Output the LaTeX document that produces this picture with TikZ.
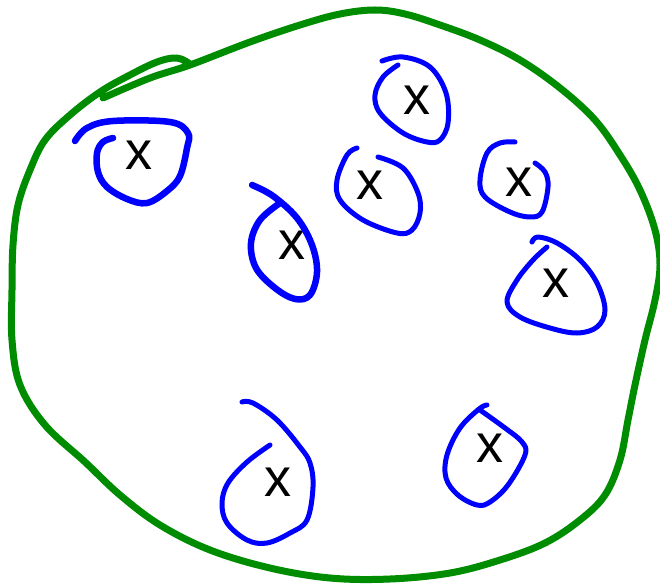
\documentclass[tikz,border=0pt]{standalone}
\usepackage{fontspec}
\newfontfamily\sketchfont{Liberation Sans}
\usepackage{tikz}
\usepackage{xcolor}

\tikzset{
  blob/.style={draw=green!55!black, line width=7pt, line cap=round, line join=round},
  loopline/.style={draw=blue, line width=5pt, line cap=round, line join=round},
  boldloop/.style={loopline, line width=6.5pt},
  xlabel/.style={inner sep=0pt, font=\sketchfont\fontsize{54}{54}\selectfont}
}

\begin{document}
\begin{tikzpicture}[x=1pt, y=-1pt]
  \useasboundingbox (0,0) rectangle (660,585);
  % green outline, drawn as one stroke with the small overlap at top left
  \draw[blob] plot[smooth, tension=0.6] coordinates {
    (103,98) (150,78) (190,65) (250,42) (300,25) (340,14) (375,10) (405,14)
    (440,25) (480,40) (520,60) (560,88) (595,120) (620,155) (640,190)
    (655,230) (660,265) (655,300) (645,340) (635,385) (628,420) (620,460)
    (605,495) (580,520) (545,543) (500,560) (450,573) (390,579) (330,578)
    (270,568) (210,550) (160,525) (120,495) (85,462) (45,425) (20,385)
    (12,340) (12,290) (13,245) (18,205) (30,170) (45,140) (70,115) (100,92)
    (128,76) (157,62) (177,58) (190,64)};

  % the crosses
  \node[xlabel] (x1) at (139,155) {x};
  \node[xlabel] (x2) at (292,245) {x};
  \node[xlabel] (x3) at (370,185) {x};
  \node[xlabel] (x4) at (417,100) {x};
  \node[xlabel] (x5) at (519,182) {x};
  \node[xlabel] (x6) at (556,283) {x};
  \node[xlabel] (x7) at (278,482) {x};
  \node[xlabel] (x8) at (490,448) {x};

  % hand drawn loops round them
  \draw[boldloop] plot[smooth, tension=0.6] coordinates {
    (75,141) (87,128) (113,121) (170,122) (188,133) (187,148) (180,176)
    (167,191) (147,203) (127,199) (107,187) (98,172) (97,153) (103,142) (113,138)};
  \draw[boldloop] plot[smooth, tension=0.6] coordinates {
    (252,185) (273,196) (297,218) (312,245) (317,272) (310,295) (295,299)
    (275,288) (256,268) (251,243) (260,220) (280,203)};
  \draw[loopline] plot[smooth, tension=0.6] coordinates {
    (357,148) (347,155) (337,180) (340,200) (363,220) (397,233) (412,230)
    (420,213) (418,193) (403,168) (378,157)};
  \draw[loopline] plot[smooth, tension=0.6] coordinates {
    (382,61) (403,57) (430,67) (446,93) (448,123) (440,140) (427,142)
    (403,133) (380,113) (375,95) (383,77) (398,65)};
  \draw[loopline] plot[smooth, tension=0.6] coordinates {
    (515,142) (500,143) (487,153) (480,180) (485,197) (510,212) (530,217)
    (542,212) (548,187) (545,172) (535,163)};
  \draw[loopline] plot[smooth, tension=0.6] coordinates {
    (532,242) (538,237) (557,243) (580,260) (597,283) (605,310) (597,327)
    (577,333) (550,328) (520,317) (507,302) (517,280) (533,260) (547,247)};
  \draw[loopline] plot[smooth, tension=0.6] coordinates {
    (242,402) (253,403) (277,420) (300,447) (310,463) (313,487) (307,520)
    (290,533) (267,543) (247,540) (227,523) (222,503) (228,483) (247,462) (270,445)};
  \draw[loopline] plot[smooth, tension=0.6] coordinates {
    (487,405) (479,409) (460,428) (447,455) (446,478) (458,495) (477,505)
    (490,502) (508,485) (525,455) (522,442) (505,428) (480,410)};
\end{tikzpicture}
\end{document}
